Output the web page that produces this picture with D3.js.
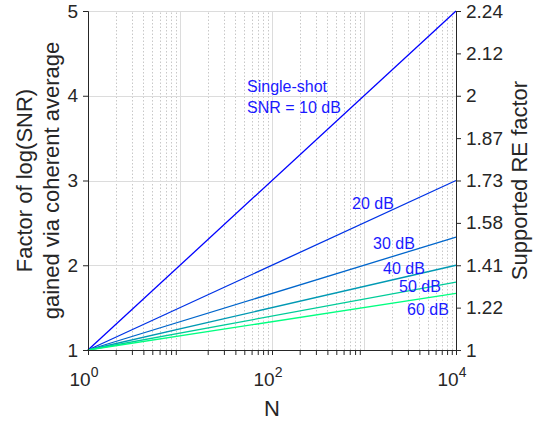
<html lang="en">
<head>
<meta charset="utf-8">
<script src="https://cdn.jsdelivr.net/npm/d3@7"></script>
<style>
  body { margin: 0; background: #fff; }
  text { font-family: "Liberation Sans", Arial, sans-serif; }
  .axis path, .axis line { stroke: #262626; }
  .axis text { fill: #262626; font-size: 19px; }
  .grid line { stroke: #dcdcdc; }
  .minor line { stroke: #c8c8c8; stroke-dasharray: 1.5 2; }
  .lbl { fill: #1a1aff; font-size: 16px; }
  .title { fill: #262626; font-size: 22px; }
</style>
</head>
<body>
<div id="chart"></div>
<script>
// endpoints of each curve (x is N, log scale)
var nRange = [1, 10000];
var snrNames = ["10 dB", "20 dB", "30 dB", "40 dB", "50 dB", "60 dB"];
var startVals = [1, 1, 1, 1, 1, 1];
var endVals = [5, 3, 2.333, 2, 1.8, 1.667];
var lineColors = ["#0000ff", "#0033e6", "#0066cc", "#0099b3", "#00cc99", "#00ff80"];

var leftTicks = [1, 2, 3, 4, 5];
var rightTickPos = [1, 1.5, 2, 2.5, 3, 3.5, 4, 4.5, 5];
var rightTickLabels = ["1", "1.22", "1.41", "1.58", "1.73", "1.87", "2", "2.12", "2.24"];
var xTicks = [1, 100, 10000];
var xTickExp = ["0", "2", "4"];

var width = 533, height = 422;
var margin = {top: 11, right: 77, bottom: 72, left: 88};

var svg = d3.select("#chart").append("svg")
    .attr("width", width)
    .attr("height", height);

var x = d3.scaleLog().domain(nRange).range([margin.left, width - margin.right]);
var y = d3.scaleLinear().domain([1, 5]).range([height - margin.bottom, margin.top]);

// minor grid (dotted)
var minorVals = [];
[1, 10, 100, 1000].forEach(function(d) {
  for (var k = 2; k <= 9; k++) minorVals.push(d * k);
});
svg.append("g").attr("class", "minor")
  .selectAll("line").data(minorVals).enter().append("line")
  .attr("x1", function(d) { return Math.round(x(d)) + 0.5; })
  .attr("x2", function(d) { return Math.round(x(d)) + 0.5; })
  .attr("y1", y(1)).attr("y2", y(5));

// major grid
var grid = svg.append("g").attr("class", "grid");
grid.selectAll(".gx").data([10, 100, 1000]).enter().append("line")
  .attr("x1", function(d) { return Math.round(x(d)) + 0.5; })
  .attr("x2", function(d) { return Math.round(x(d)) + 0.5; })
  .attr("y1", y(1)).attr("y2", y(5));
grid.selectAll(".gy").data(leftTicks.slice(1)).enter().append("line")
  .attr("x1", x(1)).attr("x2", x(10000))
  .attr("y1", function(d) { return Math.round(y(d)) + 0.5; })
  .attr("y2", function(d) { return Math.round(y(d)) + 0.5; });

// lines
var line = d3.line().x(function(d) { return x(d[0]); }).y(function(d) { return y(d[1]); });
snrNames.forEach(function(name, i) {
  svg.append("path")
    .datum([[nRange[0], startVals[i]], [nRange[1], endVals[i]]])
    .attr("fill", "none")
    .attr("stroke", lineColors[i])
    .attr("stroke-width", 1.3)
    .attr("d", line);
});

// axes
var xAxis = d3.axisBottom(x).tickSizeInner(5).tickSizeOuter(0)
  .tickValues(xTicks.concat(minorVals)).tickFormat("");
svg.append("g").attr("class", "axis")
  .attr("transform", "translate(0," + y(1) + ")")
  .call(xAxis);

var xl = svg.append("g").attr("class", "axis");
xTicks.forEach(function(d, i) {
  var t = xl.append("text")
    .attr("x", x(d) - 4)
    .attr("y", y(1) + 36)
    .attr("text-anchor", "middle");
  t.append("tspan").text("10");
  t.append("tspan").attr("dy", -9).style("font-size", "14px").text(xTickExp[i]);
});

svg.append("g").attr("class", "axis")
  .attr("transform", "translate(" + x(1) + ",0)")
  .call(d3.axisLeft(y).tickValues(leftTicks).tickFormat(d3.format("d")).tickSizeInner(5).tickSizeOuter(5))
  .selectAll("text").attr("x", -10);

svg.append("g").attr("class", "axis")
  .attr("transform", "translate(" + x(10000) + ",0)")
  .call(d3.axisRight(y).tickValues(rightTickPos)
    .tickFormat(function(d, i) { return rightTickLabels[i]; })
    .tickSizeInner(5).tickSizeOuter(5))
  .selectAll("text").attr("x", 10);

// axis titles
svg.append("text").attr("class", "title")
  .attr("x", x(100)).attr("y", height - 6)
  .attr("text-anchor", "middle")
  .text("N");

svg.append("text").attr("class", "title")
  .attr("transform", "translate(32," + y(3) + ") rotate(-90)")
  .attr("text-anchor", "middle")
  .text("Factor of log(SNR)");
svg.append("text").attr("class", "title")
  .attr("transform", "translate(59," + y(3) + ") rotate(-90)")
  .attr("text-anchor", "middle")
  .text("gained via coherent average");

svg.append("text").attr("class", "title")
  .attr("transform", "translate(527," + y(3) + ") rotate(-90)")
  .attr("text-anchor", "middle")
  .text("Supported RE factor");

// curve labels
var labelPos = [[247, 113], [352, 209], [373, 249], [383, 274], [399, 292], [407, 315]];
svg.append("text").attr("class", "lbl").attr("x", 247).attr("y", 92).text("Single-shot");
snrNames.forEach(function(name, i) {
  svg.append("text").attr("class", "lbl")
    .attr("x", labelPos[i][0]).attr("y", labelPos[i][1])
    .text(i === 0 ? "SNR = " + name : name);
});
</script>
</body>
</html>
